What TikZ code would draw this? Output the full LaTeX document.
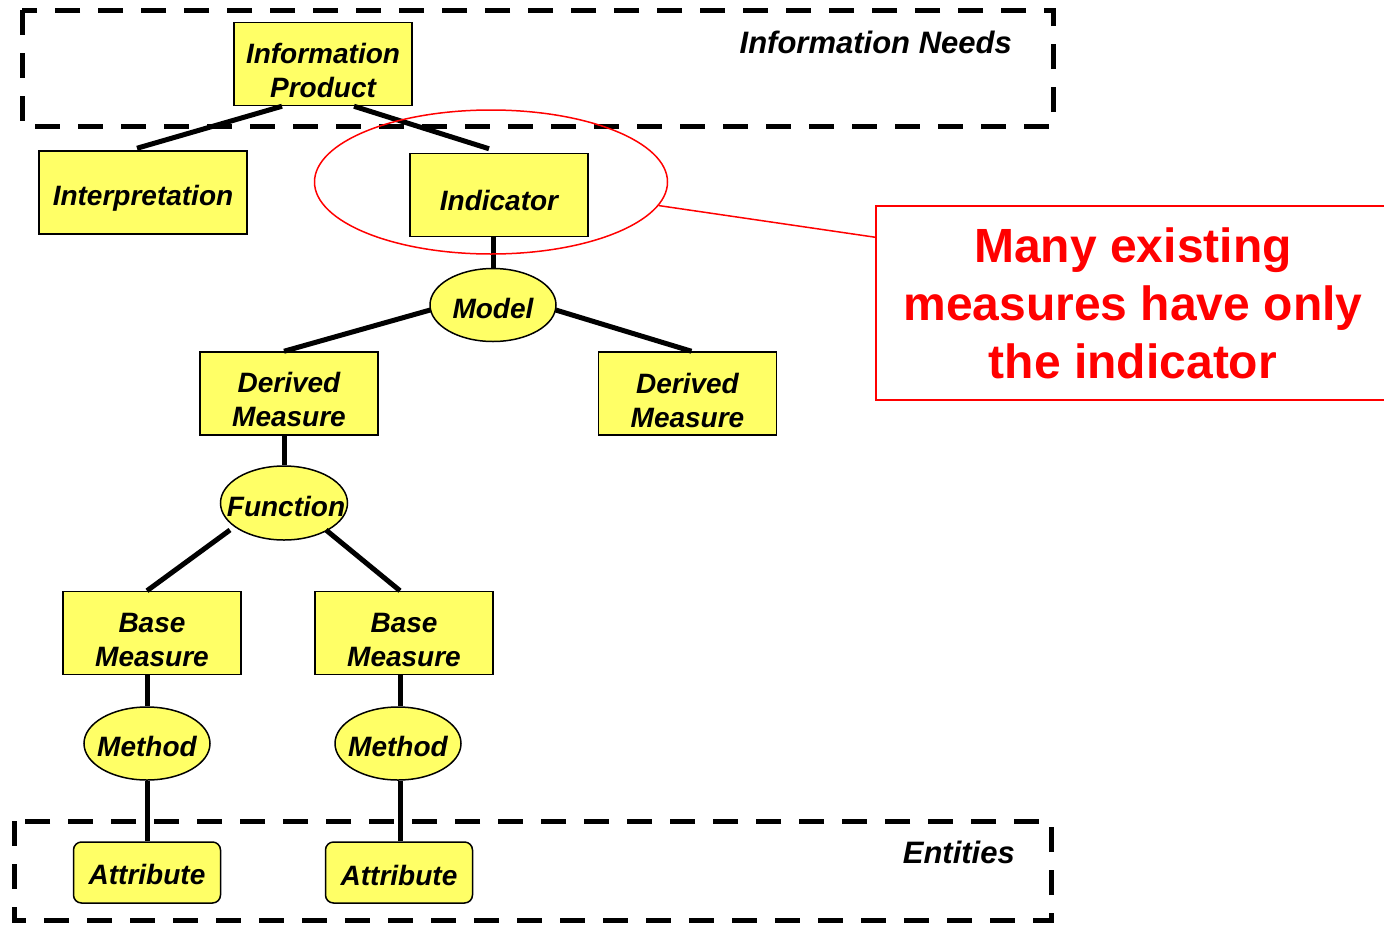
\documentclass[tikz,border=0pt]{standalone}
\usepackage{fontspec}
\setmainfont{Liberation Sans}
\usetikzlibrary{shapes.geometric,calc}
\definecolor{boxfill}{RGB}{255,255,102}
\definecolor{notered}{RGB}{255,0,0}
% raises the first text line's height so the text sits a little low in its box
\newcommand{\lowset}[1]{\rule{0pt}{#1}}
\tikzset{
  termfont/.style={font=\fontsize{28}{34}\selectfont\bfseries\itshape},
  termbox/.style={termfont, draw=black, line width=1.5pt, fill=boxfill,
    minimum width=178pt, minimum height=83pt, inner sep=0pt, align=center},
  attrbox/.style={termbox, rounded corners=8pt, minimum width=147pt, minimum height=61pt},
  calcell/.style={termfont, ellipse, draw=black, line width=1.5pt, fill=boxfill,
    minimum width=126pt, minimum height=73pt, inner ysep=0pt, inner xsep=-25pt},
  link/.style={line width=5pt},
  zone/.style={line width=5pt, dash pattern=on 25pt off 18pt},
  zonelabel/.style={font=\fontsize{31}{36}\selectfont\bfseries\itshape, anchor=east, inner sep=0pt},
  redline/.style={draw=notered, line width=1.5pt},
  notefont/.style={font=\fontsize{48}{58}\selectfont\bfseries, text=notered, align=center}
}
\begin{document}
\begin{tikzpicture}[x=1pt,y=-1pt]
\useasboundingbox (0,0) rectangle (1384,924);
\clip (0,0) rectangle (1384,924);

% dashed zones
\draw[zone] (22,10) rectangle (1053,126);
\draw[zone] (14,821) rectangle (1051,920);
\node[zonelabel] (needs) at (1012,42) {Information Needs};
\node[zonelabel] (ents) at (1015,852) {Entities};

% measurement construct
\node[termbox] (ip) at (323,64) {\lowset{33pt}Information\\Product};
\node[termbox, minimum width=208pt] (interp) at (143,192.5) {\lowset{32pt}Interpretation};
\node[termbox] (ind) at (499,195) {\lowset{31pt}Indicator};
\node[calcell] (model) at (493,305) {\lowset{27pt}Model};
\node[termbox] (dm1) at (289,393.5) {\lowset{33pt}Derived\\Measure};
\node[termbox] (dm2) at (687.5,393.5) {\lowset{34pt}Derived\\Measure};
\node[calcell, minimum width=127pt, minimum height=74pt] (func) at (284,503) {\lowset{27pt}\hspace{4pt}Function};
\node[termbox] (bm1) at (152,633) {\lowset{33pt}Base\\Measure};
\node[termbox] (bm2) at (404,633) {\lowset{33pt}Base\\Measure};
\node[calcell] (meth1) at (147,743.5) {\lowset{26pt}Method};
\node[calcell] (meth2) at (398,743.5) {\lowset{26pt}Method};
\node[attrbox] (attr1) at (147,872.5) {\lowset{25pt}Attribute};
\node[attrbox] (attr2) at (399,872.5) {\lowset{27pt}Attribute};

% connectors
\draw[link] ($(ip.south)+(-41,0)$) -- ($(interp.north)+(-6,-2)$);
\draw[link] ($(ip.south)+(31,0)$) -- ($(ind.north)+(-10,-4)$);
\draw[link] ($(ind.south)+(-6,0)$) -- (model.north);
\draw[link] ($(model.west)+(1,5)$) -- ($(dm1.north)+(-5,0)$);
\draw[link] ($(model.east)+(-1,5)$) -- ($(dm2.north)+(4,0)$);
\draw[link] ($(dm1.south)+(-5,0)$) -- (func.north);
\draw[link] ($(func.center)+(-54,27)$) -- ($(bm1.north)+(-5,0)$);
\draw[link] ($(func.center)+(42,27)$) -- ($(bm2.north)+(-4,0)$);
\draw[link] ($(bm1.south)+(-5,0)$) -- (meth1.north);
\draw[link] ($(bm2.south)+(-4,0)$) -- ($(meth2.north)+(2,0)$);
\draw[link] (meth1.south) -- (attr1.north);
\draw[link] ($(meth2.south)+(2,0)$) -- ($(attr2.north)+(1,0)$);

% highlight and callout
\node[ellipse, redline, minimum width=353pt, minimum height=144pt, inner sep=0pt] (focus) at (491,182) {};
\node[redline, notefont, minimum width=514pt, minimum height=194pt, inner sep=0pt] (note) at (1133,303)
  {Many existing\\measures have only\\the indicator};
\draw[redline] (focus.-8.5) -- ($(note.north west)+(0,32)$);
\end{tikzpicture}
\end{document}
